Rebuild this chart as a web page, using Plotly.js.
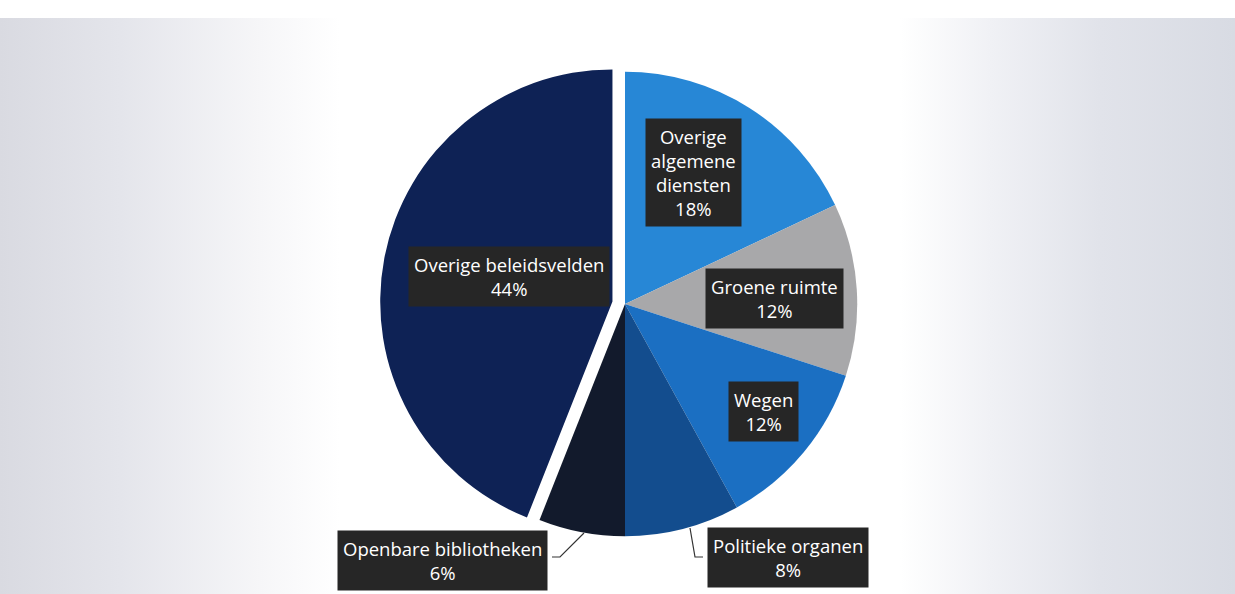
<!DOCTYPE html>
<html>
<head>
<meta charset="utf-8">
<script src="https://cdn.plot.ly/plotly-3.0.1.min.js"></script>
<style>
html,body{margin:0;padding:0;background:#ffffff;}
#bg{position:absolute;left:0;top:18px;width:1235px;height:576px;
background:linear-gradient(to right,#d9dae1 0px,#e4e5eb 120px,#f6f6f8 260px,#ffffff 340px,#ffffff 900px,#f0f1f5 990px,#e1e3ea 1100px,#d8dbe3 1235px);}
#chart{position:absolute;left:0;top:0;width:1235px;height:594px;}
</style>
</head>
<body>
<div id="bg"></div>
<div id="chart"></div>
<script>
// Data
const categories = ["Overige algemene diensten","Groene ruimte","Wegen","Politieke organen","Openbare bibliotheken","Overige beleidsvelden"];
const shares = [18, 12, 12, 8, 6, 44];
const labelLines = ["Overige<br>algemene<br>diensten","Groene ruimte","Wegen","Politieke organen","Openbare bibliotheken","Overige beleidsvelden"];
const colors = ["#2787d6","#a8a8aa","#1b6fc2","#134d8e","#121a2c","#0e2255"];
const pulls = [0,0,0,0,0,0.055];

const W = 1235, H = 594;
const px = x => x / W;
const py = y => 1 - y / H;

// label box centres (pixels)
const labelPos = [[693,172],[774,298],[763,412],[788,557],[442,560],[509,276]];

const annotations = categories.map((c,i)=>({
  xref:'paper', yref:'paper',
  x: px(labelPos[i][0]), y: py(labelPos[i][1]),
  xanchor:'center', yanchor:'middle',
  text: labelLines[i] + '<br>' + shares[i] + '%',
  showarrow:false,
  font:{family:'Open Sans, Liberation Sans, sans-serif', size:18.5, color:'#ffffff'},
  bgcolor:'#262626',
  borderpad:5,
  align:'center'
}));

const leader = (pts) => ({
  type:'path', xref:'paper', yref:'paper',
  path: 'M' + pts.map(p=>px(p[0])+','+py(p[1])).join(' L'),
  line:{color:'#333333', width:1.2}
});

const data = [{
  type:'pie',
  labels: categories,
  values: shares,
  sort:false,
  direction:'clockwise',
  rotation:0,
  pull: pulls,
  marker:{colors: colors, line:{width:0}},
  textinfo:'none',
  hoverinfo:'label+percent',
  showlegend:false,
  domain:{x:[px(380), px(870)], y:[py(549), py(59)]}
}];

const layout = {
  width:W, height:H,
  margin:{l:0,r:0,t:0,b:0},
  paper_bgcolor:'rgba(0,0,0,0)',
  plot_bgcolor:'rgba(0,0,0,0)',
  showlegend:false,
  annotations: annotations,
  shapes:[
    leader([[552,557],[560,557],[584,533]]),
    leader([[690,528],[695,557],[703,557]])
  ]
};

Plotly.newPlot('chart', data, layout, {displayModeBar:false, staticPlot:true});
</script>
</body>
</html>
